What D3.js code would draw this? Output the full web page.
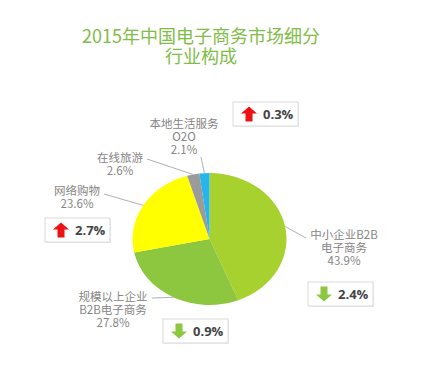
<!DOCTYPE html>
<html><head><meta charset="utf-8">
<script src="https://cdn.jsdelivr.net/npm/d3@7/dist/d3.min.js"></script>
<style>body{margin:0;background:#fff}svg{display:block}</style>
</head><body>
<script>
// ---- data ----
const titleLines = ["2015年中国电子商务市场细分", "行业构成"];
const categories = ["中小企业B2B电子商务", "规模以上企业B2B电子商务", "网络购物", "在线旅游", "本地生活服务O2O"];
const labelLines = [["中小企业B2B", "电子商务"], ["规模以上企业", "B2B电子商务"], ["网络购物"], ["在线旅游"], ["本地生活服务", "O2O"]];
const shares = [43.9, 27.8, 23.6, 2.6, 2.1];
const changes = [-2.4, -0.9, 2.7, null, 0.3];

// ---- layout / style ----
const W = 435, H = 365;
const colors = ["#a7d12f", "#8dc63f", "#ffff00", "#9b9b9b", "#27b5ea"];
const font = "'Noto Sans CJK SC', 'Noto Sans', sans-serif";
const cx = 209.5, cy = 239, rx = 77, ry = 66;
// label anchors (text centre x, first baseline y, line spacing) and leader start points
const labelLayout = [
  {x: 344, y: 239, dy: 13, lx: 306, ly: 238},
  {x: 113, y: 301, dy: 13, lx: 152, ly: 298},
  {x: 77,  y: 195, dy: 13, lx: 104, ly: 194},
  {x: 120, y: 162, dy: 13, lx: 147, ly: 159},
  {x: 184, y: 128, dy: 13, lx: 201, ly: 157}
];
const boxLayout = [
  {x: 308, y: 282}, {x: 163, y: 319}, {x: 45, y: 218}, null, {x: 233, y: 102}
];

const svg = d3.select("body").append("svg").attr("width", W).attr("height", H)
  .style("font-family", font);
svg.append("rect").attr("width", W).attr("height", H).attr("fill", "#fff");

// title
svg.append("g").selectAll("text").data(titleLines).join("text")
  .attr("x", 201).attr("y", (d, i) => 43 + i * 20)
  .attr("text-anchor", "middle").attr("font-size", 18)
  .attr("fill", "#80bc47").text(d => d);

// pie
const pie = d3.pie().sort(null).value(d => d)(shares);
const arc = d3.arc().innerRadius(0).outerRadius(rx);
const pieG = svg.append("g").attr("transform", `translate(${cx},${cy}) scale(1,${ry / rx})`);
pieG.selectAll("path").data(pie).join("path")
  .attr("d", arc).attr("fill", (d, i) => colors[i]);

// edge point of each slice at mid-angle
function edge(d) {
  const a = (d.startAngle + d.endAngle) / 2;
  return [cx + rx * Math.sin(a), cy - ry * Math.cos(a)];
}

// leader lines
svg.append("g").selectAll("line").data(pie).join("line")
  .attr("x1", (d, i) => labelLayout[i].lx).attr("y1", (d, i) => labelLayout[i].ly)
  .attr("x2", d => edge(d)[0]).attr("y2", d => edge(d)[1])
  .attr("stroke", "#b0b0b0").attr("stroke-width", 1);

// labels
const fmt = v => v.toFixed(1) + "%";
const lab = svg.append("g").selectAll("text").data(pie).join("text")
  .attr("text-anchor", "middle").attr("font-size", 11.5).attr("fill", "#858585");
lab.each(function (d, i) {
  const L = labelLayout[i];
  const lines = labelLines[i].concat([fmt(shares[i])]);
  d3.select(this).selectAll("tspan").data(lines).join("tspan")
    .attr("x", L.x).attr("y", (t, j) => L.y + j * L.dy).text(t => t);
});

// change boxes
const boxes = svg.append("g").selectAll("g")
  .data(changes.map((c, i) => ({c, b: boxLayout[i]})).filter(d => d.c !== null))
  .join("g").attr("transform", d => `translate(${d.b.x},${d.b.y})`);
boxes.append("rect").attr("x", 1).attr("y", 1).attr("width", 65).attr("height", 24)
  .attr("fill", "#eeeeee");
boxes.append("rect").attr("width", 65).attr("height", 24)
  .attr("fill", "#fff").attr("stroke", "#d9d9d9").attr("stroke-width", 1);
const upArrow = "M0,7 L8,0 L16,7 L11.5,7 L11.5,15 L4.5,15 L4.5,7 Z";
const downArrow = "M4.5,0 L11.5,0 L11.5,8 L16,8 L8,15 L0,8 L4.5,8 Z";
boxes.append("path")
  .attr("transform", "translate(8,4.5)")
  .attr("d", d => d.c > 0 ? upArrow : downArrow)
  .attr("fill", d => d.c > 0 ? "#ee1111" : "#8dc63f");
boxes.append("text").attr("x", 30).attr("y", 16.5)
  .attr("font-size", 13).attr("font-weight", "bold").attr("fill", "#444")
  .attr("font-family", "'Open Sans', 'Noto Sans', sans-serif")
  .text(d => Math.abs(d.c).toFixed(1) + "%");
</script>
</body></html>
